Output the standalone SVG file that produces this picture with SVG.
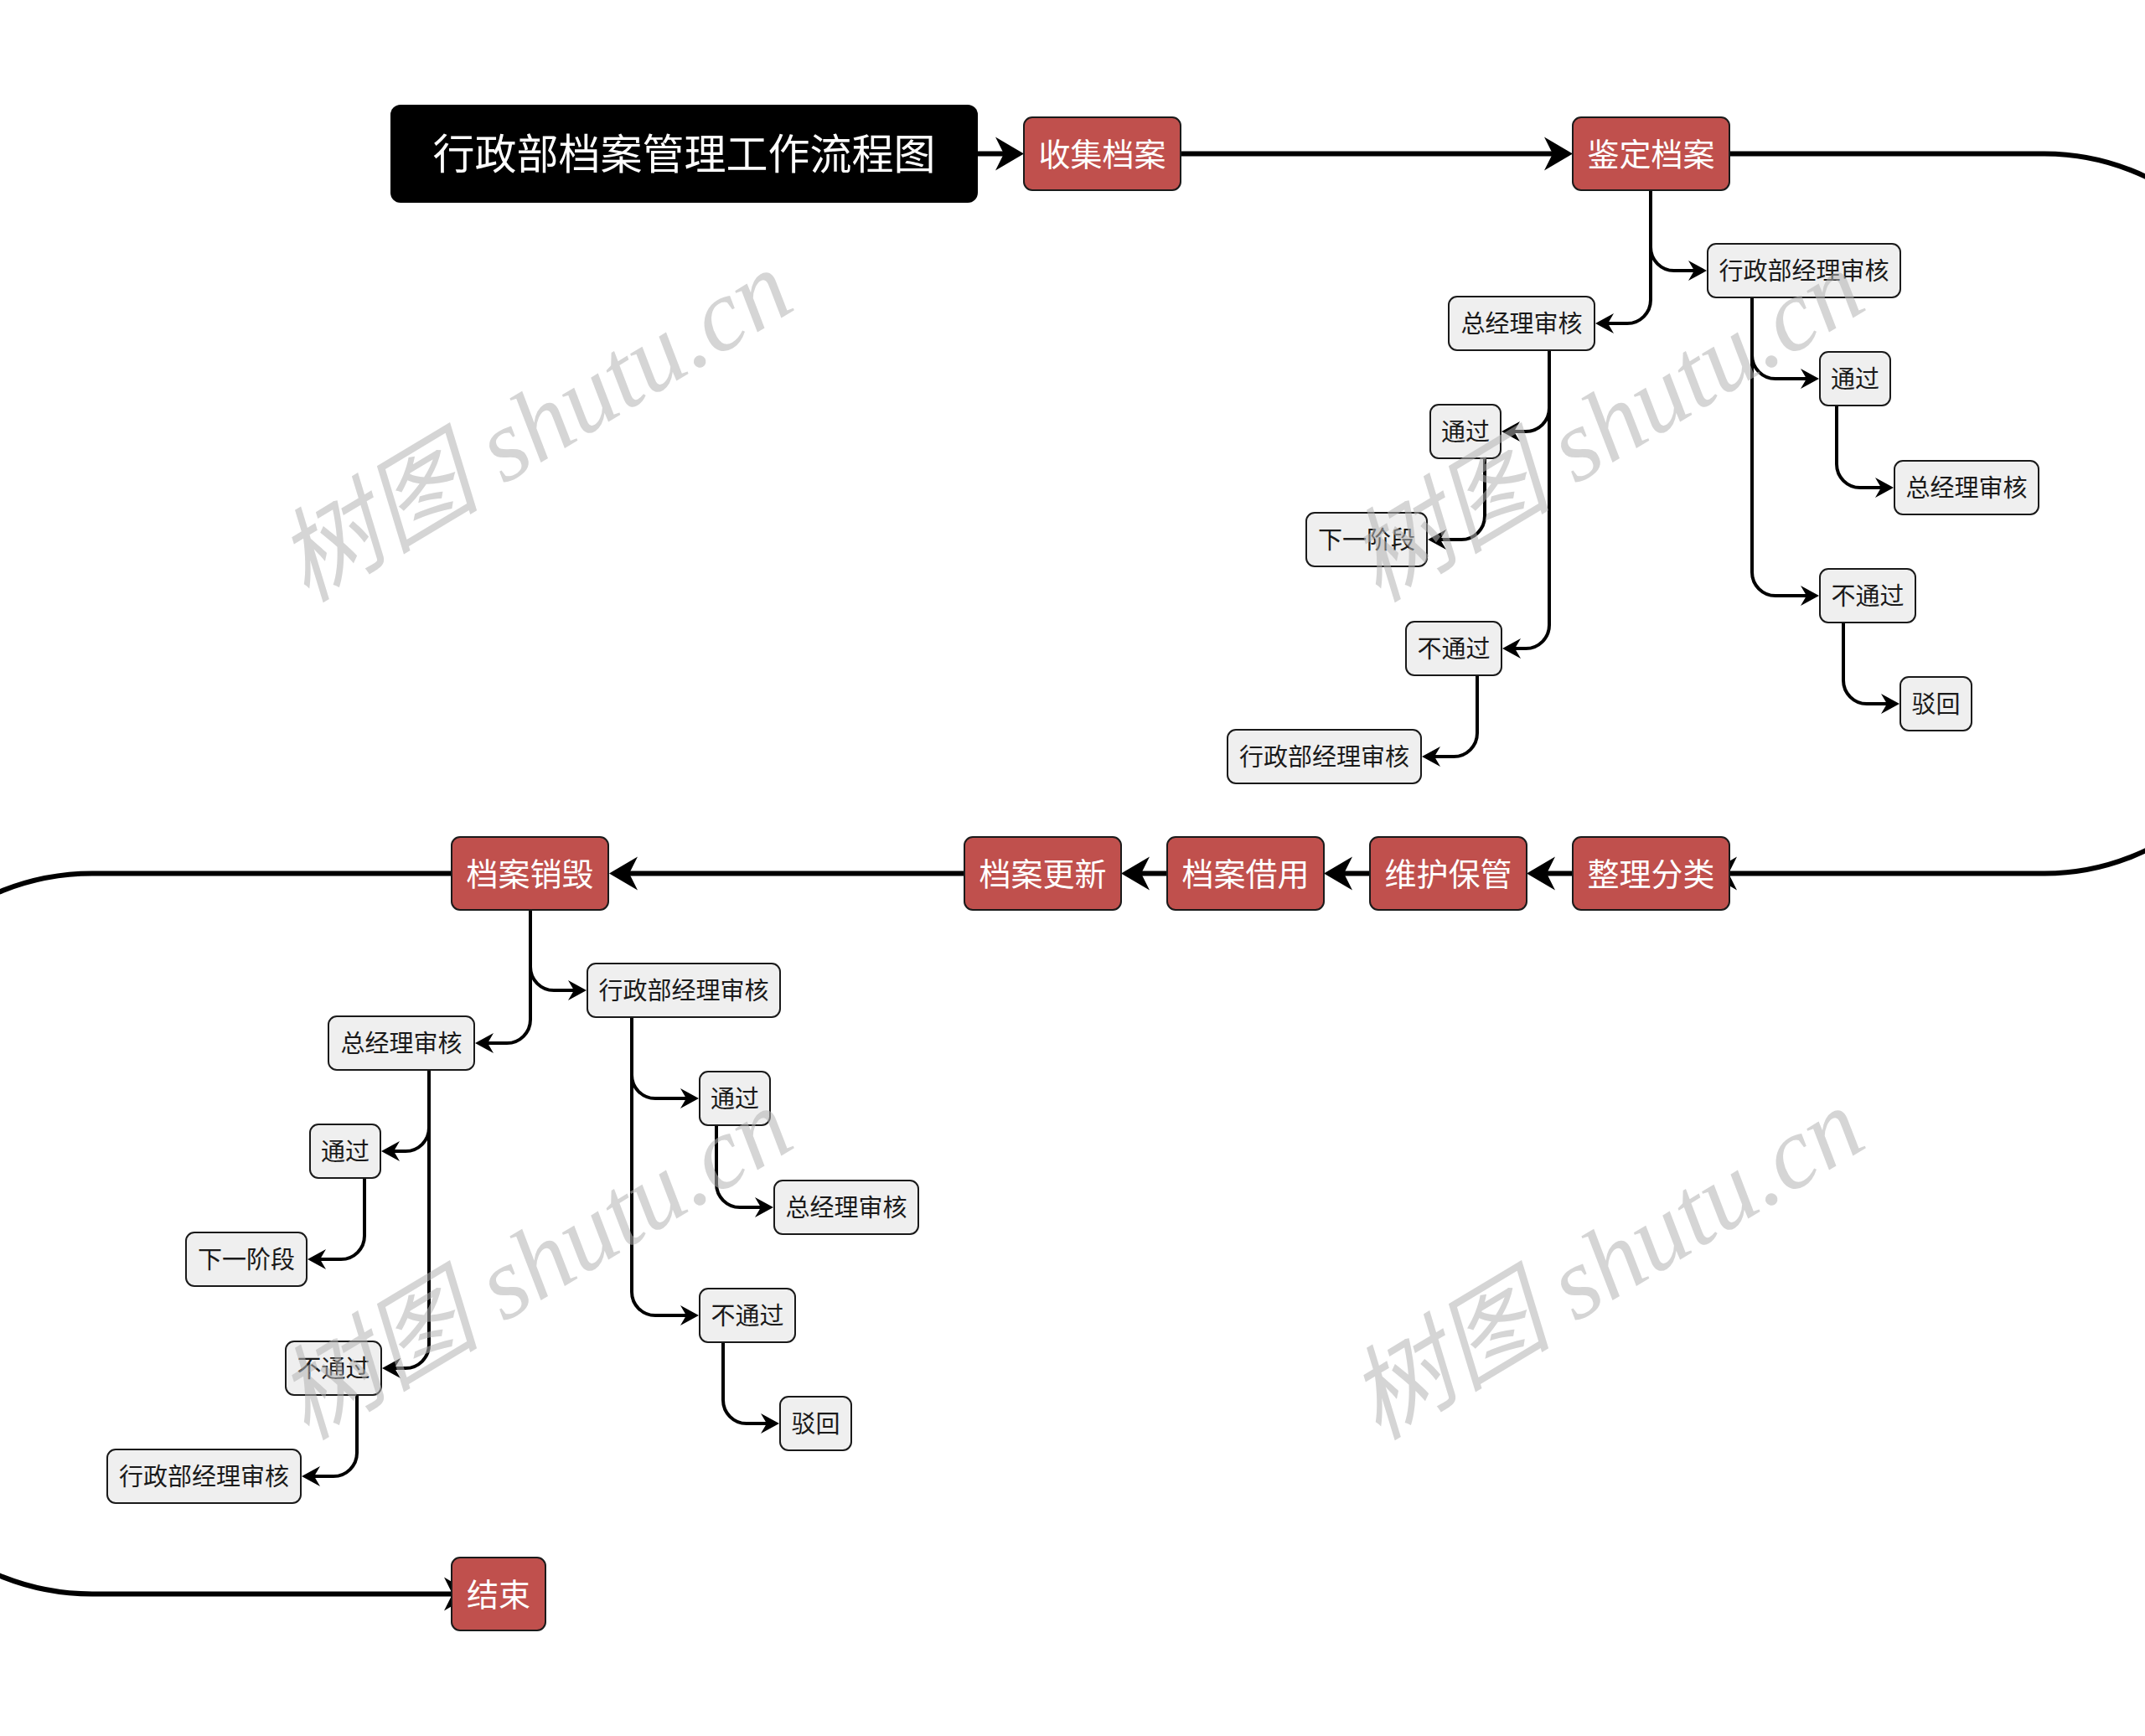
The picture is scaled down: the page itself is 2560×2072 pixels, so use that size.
<svg xmlns="http://www.w3.org/2000/svg" width="2560" height="2072" viewBox="0 0 2560 2072">
<style>
.bg{fill:#ffffff}
.title rect{fill:#000000}
.title text{fill:#ffffff;font-size:50px}
.main rect{fill:#c0504d;stroke:#1a1a1a;stroke-width:2}
.main text{fill:#ffffff;font-size:38px}
.sub rect{fill:#efefef;stroke:#1a1a1a;stroke-width:2}
.sub text{fill:#1a1a1a;font-size:29px}
text{font-family:"Noto Sans CJK SC","Noto Sans",sans-serif;text-anchor:middle}
.mline{fill:none;stroke:#000000;stroke-width:6;marker-end:url(#ahMain)}
.bline{fill:none;stroke:#000000;stroke-width:4;marker-end:url(#ahSub)}
.wm{font-family:"Liberation Serif","Noto Sans CJK SC",serif;font-style:italic;font-size:122px;fill:#b4b4b4;opacity:0.55;text-anchor:middle}
</style>
<defs>
<marker id="ahMain" markerUnits="userSpaceOnUse" orient="auto" refX="-10" refY="0" markerWidth="60" markerHeight="60" overflow="visible">
<path d="M0,0 L-34,-20 L-24,0 L-34,20 Z" fill="#000000"/>
</marker>
<marker id="ahSub" markerUnits="userSpaceOnUse" orient="auto" refX="-8" refY="0" markerWidth="40" markerHeight="40" overflow="visible">
<path d="M0,0 L-22,-12 L-15,0 L-22,12 Z" fill="#000000"/>
</marker>
</defs>
<rect class="bg" x="0" y="0" width="2560" height="2072"/>

<g id="connectors">
<path class="mline" d="M1167,183.5 H1212"/>
<path class="mline" d="M1409,183.5 H1867"/>
<path class="mline" d="M2064,183.5 H2440 A280,280 0 0 1 2720,463.5 V762.5 A280,280 0 0 1 2440,1042.5 H2049"/>
<path class="mline" d="M1877,1042.5 H1832"/>
<path class="mline" d="M1635,1042.5 H1590"/>
<path class="mline" d="M1393,1042.5 H1348"/>
<path class="mline" d="M1151,1042.5 H737"/>
<path class="mline" d="M539,1042.5 H110 A290,290 0 0 0 -180,1332.5 V1612.5 A290,290 0 0 0 110,1902.5 H554"/>
<g id="branch-upper-links">
<path class="bline" d="M1970,227 V295 A28,28 0 0 0 1998,323 H2029"/>
<path class="bline" d="M1970,227 V358 A28,28 0 0 1 1942,386 H1912"/>
<path class="bline" d="M2091,356 V424 A28,28 0 0 0 2119,452 H2163"/>
<path class="bline" d="M2091,356 V683 A28,28 0 0 0 2119,711 H2163"/>
<path class="bline" d="M2192,484 V554 A28,28 0 0 0 2220,582 H2252"/>
<path class="bline" d="M2200,743 V812 A28,28 0 0 0 2228,840 H2259"/>
<path class="bline" d="M1849,418 V487 A28,28 0 0 1 1821,515 H1800"/>
<path class="bline" d="M1849,418 V746 A28,28 0 0 1 1821,774 H1801"/>
<path class="bline" d="M1772,547 V616 A28,28 0 0 1 1744,644 H1712"/>
<path class="bline" d="M1763,806 V875 A28,28 0 0 1 1735,903 H1705"/>
</g>
<g id="branch-lower-links" transform="translate(-1337,859)">
<path class="bline" d="M1970,227 V295 A28,28 0 0 0 1998,323 H2029"/>
<path class="bline" d="M1970,227 V358 A28,28 0 0 1 1942,386 H1912"/>
<path class="bline" d="M2091,356 V424 A28,28 0 0 0 2119,452 H2163"/>
<path class="bline" d="M2091,356 V683 A28,28 0 0 0 2119,711 H2163"/>
<path class="bline" d="M2192,484 V554 A28,28 0 0 0 2220,582 H2252"/>
<path class="bline" d="M2200,743 V812 A28,28 0 0 0 2228,840 H2259"/>
<path class="bline" d="M1849,418 V487 A28,28 0 0 1 1821,515 H1800"/>
<path class="bline" d="M1849,418 V746 A28,28 0 0 1 1821,774 H1801"/>
<path class="bline" d="M1772,547 V616 A28,28 0 0 1 1744,644 H1712"/>
<path class="bline" d="M1763,806 V875 A28,28 0 0 1 1735,903 H1705"/>
</g>
</g>

<g id="nodes">
<g id="title" class="title"><rect x="466" y="125" width="701" height="117" rx="12"/><text x="816.5" y="202">行政部档案管理工作流程图</text></g>
<g id="n-collect" class="main"><rect x="1222" y="140" width="187" height="87" rx="10"/><text x="1315.5" y="198">收集档案</text></g>
<g id="n-appraise" class="main"><rect x="1877" y="140" width="187" height="87" rx="10"/><text x="1970.5" y="198">鉴定档案</text></g>
<g id="n-sort" class="main"><rect x="1877" y="999" width="187" height="87" rx="10"/><text x="1970.5" y="1057">整理分类</text></g>
<g id="n-keep" class="main"><rect x="1635" y="999" width="187" height="87" rx="10"/><text x="1728.5" y="1057">维护保管</text></g>
<g id="n-borrow" class="main"><rect x="1393" y="999" width="187" height="87" rx="10"/><text x="1486.5" y="1057">档案借用</text></g>
<g id="n-update" class="main"><rect x="1151" y="999" width="187" height="87" rx="10"/><text x="1244.5" y="1057">档案更新</text></g>
<g id="n-destroy" class="main"><rect x="539" y="999" width="187" height="87" rx="10"/><text x="632.5" y="1057">档案销毁</text></g>
<g id="n-end" class="main"><rect x="539" y="1859" width="112" height="87" rx="10"/><text x="595" y="1917">结束</text></g>

<g id="upper-branch">
<g id="u-a1" class="sub"><rect x="2038" y="291" width="230" height="64" rx="10"/><text x="2153" y="334">行政部经理审核</text></g>
<g id="u-b1" class="sub"><rect x="1729" y="354" width="174" height="64" rx="10"/><text x="1816" y="397">总经理审核</text></g>
<g id="u-a2" class="sub"><rect x="2172" y="420" width="84" height="64" rx="10"/><text x="2214" y="463">通过</text></g>
<g id="u-b2" class="sub"><rect x="1707" y="483" width="84" height="64" rx="10"/><text x="1749" y="526">通过</text></g>
<g id="u-a3" class="sub"><rect x="2261" y="550" width="172" height="64" rx="10"/><text x="2347" y="593">总经理审核</text></g>
<g id="u-b3" class="sub"><rect x="1559" y="612" width="144" height="64" rx="10"/><text x="1631" y="655">下一阶段</text></g>
<g id="u-a4" class="sub"><rect x="2172" y="679" width="114" height="64" rx="10"/><text x="2229" y="722">不通过</text></g>
<g id="u-b4" class="sub"><rect x="1678" y="742" width="114" height="64" rx="10"/><text x="1735" y="785">不通过</text></g>
<g id="u-a5" class="sub"><rect x="2268" y="808" width="85" height="64" rx="10"/><text x="2310.5" y="851">驳回</text></g>
<g id="u-b5" class="sub"><rect x="1465" y="871" width="231" height="64" rx="10"/><text x="1580.5" y="914">行政部经理审核</text></g>
</g>

<g id="lower-branch" transform="translate(-1337,859)">
<g id="l-a1" class="sub"><rect x="2038" y="291" width="230" height="64" rx="10"/><text x="2153" y="334">行政部经理审核</text></g>
<g id="l-b1" class="sub"><rect x="1729" y="354" width="174" height="64" rx="10"/><text x="1816" y="397">总经理审核</text></g>
<g id="l-a2" class="sub"><rect x="2172" y="420" width="84" height="64" rx="10"/><text x="2214" y="463">通过</text></g>
<g id="l-b2" class="sub"><rect x="1707" y="483" width="84" height="64" rx="10"/><text x="1749" y="526">通过</text></g>
<g id="l-a3" class="sub"><rect x="2261" y="550" width="172" height="64" rx="10"/><text x="2347" y="593">总经理审核</text></g>
<g id="l-b3" class="sub"><rect x="1559" y="612" width="144" height="64" rx="10"/><text x="1631" y="655">下一阶段</text></g>
<g id="l-a4" class="sub"><rect x="2172" y="679" width="114" height="64" rx="10"/><text x="2229" y="722">不通过</text></g>
<g id="l-b4" class="sub"><rect x="1678" y="742" width="114" height="64" rx="10"/><text x="1735" y="785">不通过</text></g>
<g id="l-a5" class="sub"><rect x="2268" y="808" width="85" height="64" rx="10"/><text x="2310.5" y="851">驳回</text></g>
<g id="l-b5" class="sub"><rect x="1465" y="871" width="231" height="64" rx="10"/><text x="1580.5" y="914">行政部经理审核</text></g>
</g>
</g>

<g id="watermarks">
<text class="wm" transform="translate(640,512) rotate(-31)" y="37">树图 shutu.cn</text>
<text class="wm" transform="translate(1919,512) rotate(-31)" y="37">树图 shutu.cn</text>
<text class="wm" transform="translate(640,1512) rotate(-31)" y="37">树图 shutu.cn</text>
<text class="wm" transform="translate(1919,1512) rotate(-31)" y="37">树图 shutu.cn</text>
</g>
</svg>
